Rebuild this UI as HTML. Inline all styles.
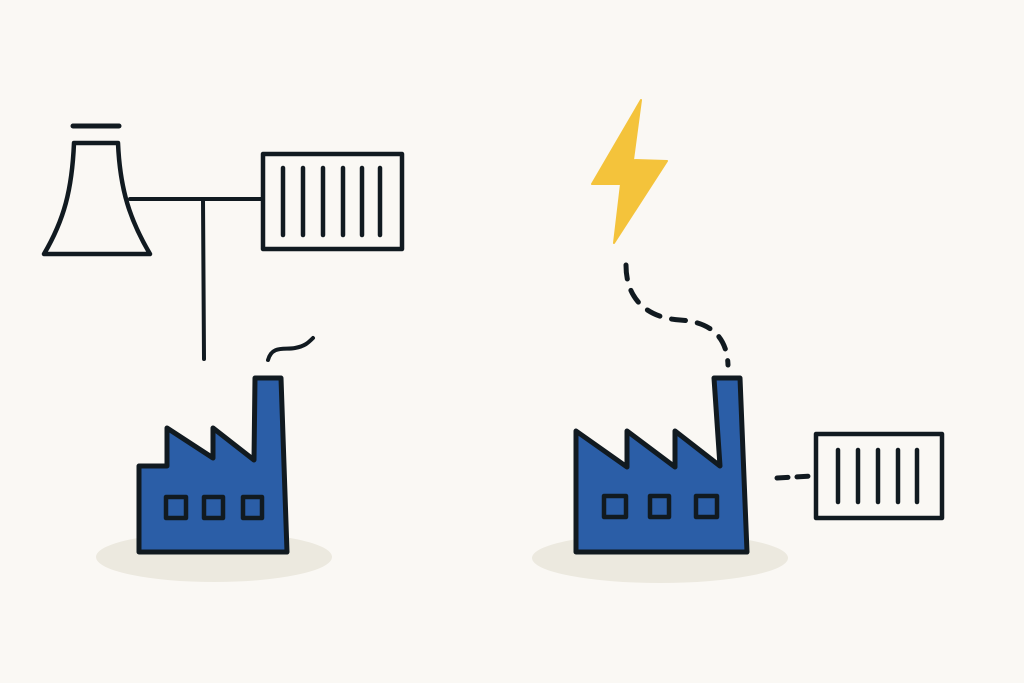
<!DOCTYPE html>
<html><head><style>html,body{margin:0;padding:0;background:#faf8f4;}svg{display:block}</style></head>
<body>
<svg width="1024" height="683" viewBox="0 0 1024 683" xmlns="http://www.w3.org/2000/svg">
<rect width="1024" height="683" fill="#faf8f4"/>
<g stroke="#111a20" stroke-linecap="round" stroke-linejoin="round" fill="none">
<ellipse cx="214" cy="557" rx="118" ry="25" fill="#ece9df" stroke="none"/>
<ellipse cx="660" cy="558" rx="128" ry="25" fill="#ece9df" stroke="none"/>
<line x1="73" y1="126" x2="119" y2="126" stroke-width="5"/>
<path d="M74,143 L118,143 C120,190 130,220 150,254 L44,254 C64,220 72,190 74,143 Z" fill="#faf8f4" stroke-width="4.5"/>
<line x1="130" y1="199" x2="262" y2="199" stroke-width="4"/>
<line x1="203" y1="199" x2="204" y2="359" stroke-width="4"/>
<rect x="263" y="154" width="139" height="95" fill="#faf8f4" stroke-width="4.5"/>
<g stroke-width="4.5"><line x1="283" y1="168" x2="283" y2="235"/><line x1="303" y1="168" x2="303" y2="235"/><line x1="323" y1="168" x2="323" y2="235"/><line x1="343" y1="168" x2="343" y2="235"/><line x1="362" y1="168" x2="362" y2="235"/><line x1="380" y1="168" x2="380" y2="235"/></g>
<path d="M268,360 C272,345 285,350 295,348 C305,346 308,343 313,338" stroke-width="4"/>
<path d="M139,466 L167,466 L167,428 L213,458 L213,428 L254,460 L255,378 L281,378 L287,552 L139,552 Z" fill="#2b5ea7" stroke-width="5"/>
<g fill="#2b5ea7" stroke-width="4.5"><rect x="166" y="497" width="20" height="21"/><rect x="204" y="497" width="19" height="21"/><rect x="243" y="497" width="19" height="21"/></g>
<polygon points="641,100 592,184 621,184 614,243 667,161 633,160" fill="#f4c33b" stroke="#f4c33b" stroke-width="2"/>
<path d="M626,265 C626,300 648,318 680,320 C712,322 727,338 728,365" stroke-width="5" stroke-dasharray="14 12"/>
<path d="M576,431 L627,467 L627,431 L675,467 L675,431 L720,466 L714,378 L740,378 L747,552 L576,552 Z" fill="#2b5ea7" stroke-width="5"/>
<g fill="#2b5ea7" stroke-width="4.5"><rect x="604" y="496" width="22" height="21"/><rect x="650" y="496" width="19" height="21"/><rect x="696" y="496" width="21" height="21"/></g>
<path d="M777,478 L812,476" stroke-width="5" stroke-dasharray="11 9"/>
<rect x="816" y="434" width="126" height="84" fill="#faf8f4" stroke-width="4.5"/>
<g stroke-width="4.5"><line x1="838" y1="450" x2="838" y2="502"/><line x1="858" y1="450" x2="858" y2="502"/><line x1="878" y1="450" x2="878" y2="502"/><line x1="898" y1="450" x2="898" y2="502"/><line x1="917" y1="450" x2="917" y2="502"/></g>
</g>
</svg>
</body></html>
